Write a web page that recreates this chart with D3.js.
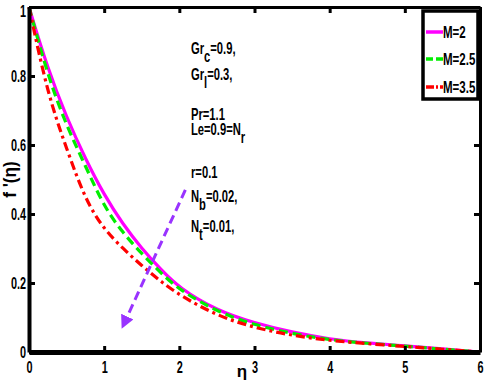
<!DOCTYPE html>
<html>
<head>
<meta charset="utf-8">
<script src="https://cdn.jsdelivr.net/npm/d3@7"></script>
<style>
  body { margin: 0; background: #fff; }
  svg text { font-family: "Liberation Sans", Arial, sans-serif; font-weight: bold; }
</style>
</head>
<body>
<script>
// data
var eta = [0, 0.25, 0.5, 0.75, 1, 1.25, 1.5, 1.75, 2, 2.5, 3, 3.5, 4, 4.5, 5, 5.5, 6];
var fM2   = [1.0, 0.82, 0.68, 0.56, 0.455, 0.37, 0.30, 0.24, 0.185, 0.12, 0.084, 0.057, 0.037, 0.026, 0.018, 0.009, 0.0];
var fM25  = [1.0, 0.80, 0.655, 0.54, 0.42, 0.345, 0.285, 0.23, 0.18, 0.117, 0.078, 0.053, 0.035, 0.025, 0.017, 0.008, 0.0];
var fM35  = [1.0, 0.745, 0.59, 0.44, 0.355, 0.30, 0.25, 0.205, 0.165, 0.105, 0.07, 0.048, 0.033, 0.024, 0.016, 0.008, 0.0];
var seriesNames = ["M=2", "M=2.5", "M=3.5"];
var xTicks = [0, 1, 2, 3, 4, 5, 6];
var yTicks = [0, 0.2, 0.4, 0.6, 0.8, 1];
var yTickLabels = ["0", "0.2", "0.4", "0.6", "0.8", "1"];

var width = 484, height = 383;
var margin = {top: 7, right: 4, bottom: 31, left: 29};
var squeeze = 0.68; // narrow bold look of the original

var svg = d3.select("body").append("svg")
    .attr("width", width)
    .attr("height", height);

var x = d3.scaleLinear().domain([0, 6]).range([margin.left, width - margin.right]);
var y = d3.scaleLinear().domain([0, 1]).range([height - margin.bottom, margin.top]);

// squash text horizontally around its own x
function condense(sel, k) {
    sel.each(function() {
        var t = d3.select(this);
        var xx = +t.attr("x") || 0;
        t.attr("x", xx / k).attr("transform", "scale(" + k + ",1)");
    });
}

var series = [
    {name: seriesNames[0], values: fM2, color: "#ff00ff", dash: null},
    {name: seriesNames[1], values: fM25, color: "#00ee00", dash: "9,5"},
    {name: seriesNames[2], values: fM35, color: "#ff0000", dash: "9,4,3,4"}
];

var line = d3.line()
    .x(function(d) { return x(d[0]); })
    .y(function(d) { return y(d[1]); })
    .curve(d3.curveBasis);

series.forEach(function(s) {
    svg.append("path")
        .attr("fill", "none")
        .attr("stroke", s.color)
        .attr("stroke-width", 3.2)
        .attr("stroke-dasharray", s.dash)
        .attr("d", line(eta.map(function(e, i) { return [e, s.values[i]]; })));
});

// axes, ticks pointing inward like matlab
var axBottom = svg.append("g").attr("transform", "translate(0," + y(0) + ")")
    .call(d3.axisBottom(x).tickValues(xTicks).tickSizeInner(-6).tickSizeOuter(0).tickPadding(10).tickFormat(d3.format("d")));
var axLeft = svg.append("g").attr("transform", "translate(" + x(0) + ",0)")
    .call(d3.axisLeft(y).tickValues(yTicks).tickSizeInner(-6).tickSizeOuter(0).tickPadding(3)
        .tickFormat(function(d, i) { return yTickLabels[i]; }));
var axTop = svg.append("g").attr("transform", "translate(0," + y(1) + ")")
    .call(d3.axisTop(x).tickValues(xTicks).tickSizeInner(-6).tickSizeOuter(0).tickFormat(""));
var axRight = svg.append("g").attr("transform", "translate(" + x(6) + ",0)")
    .call(d3.axisRight(y).tickValues(yTicks).tickSizeInner(-6).tickSizeOuter(0).tickFormat(""));

[axBottom, axLeft, axTop, axRight].forEach(function(g) {
    g.selectAll("text").attr("font-size", 16).attr("fill", "#000")
        .style("font-family", "'Liberation Sans', Arial, sans-serif").style("font-weight", "bold");
    g.selectAll(".tick line").attr("stroke", "#000").attr("stroke-width", 3);
});
axBottom.select(".domain").attr("stroke-width", 5);
axLeft.select(".domain").attr("stroke-width", 4);
axTop.select(".domain").attr("stroke-width", 3);
axRight.select(".domain").attr("stroke-width", 3);
axLeft.selectAll(".tick text").filter(function(d) { return d == 1; }).attr("dy", "0.6em");
condense(axBottom.selectAll(".tick text"), squeeze);
condense(axLeft.selectAll(".tick text"), squeeze);

// axis labels
svg.append("text")
    .attr("x", 242).attr("y", 377)
    .attr("font-size", 17)
    .attr("text-anchor", "middle")
    .attr("font-weight", "normal")
    .text("η");

svg.append("text")
    .attr("transform", "translate(16," + y(0.5) + ") rotate(-90) scale(0.9,1)")
    .attr("font-size", 19)
    .attr("text-anchor", "middle")
    .attr("font-weight", "normal")
    .text("f '(η)");

// arrow
var defs = svg.append("defs");
defs.append("marker")
    .attr("id", "arrowhead")
    .attr("viewBox", "0 0 10 10")
    .attr("refX", 5).attr("refY", 5)
    .attr("markerWidth", 4.5).attr("markerHeight", 4.5)
    .attr("orient", "auto")
    .append("path")
    .attr("d", "M0,0 L10,5 L0,10 z")
    .attr("fill", "#9933ff");

svg.append("line")
    .attr("x1", x(2.08)).attr("y1", y(0.47))
    .attr("x2", x(1.27)).attr("y2", y(0.085))
    .attr("stroke", "#9933ff")
    .attr("stroke-width", 3)
    .attr("stroke-dasharray", "9,5")
    .attr("marker-end", "url(#arrowhead)");

// parameter text
var params = [
    {base: "Gr", sub: "c", rest: "=0.9,", y: 54},
    {base: "Gr", sub: "l", rest: "=0.3,", y: 80},
    {base: "Pr=1.1", sub: "", rest: "", y: 120},
    {base: "Le=0.9=N", sub: "r", rest: "", y: 135},
    {base: "r=0.1", sub: "", rest: "", y: 178},
    {base: "N", sub: "b", rest: "=0.02,", y: 202},
    {base: "N", sub: "t", rest: "=0.01,", y: 232}
];
params.forEach(function(p) {
    var t = svg.append("text").attr("x", 191).attr("y", p.y).attr("font-size", 16.5);
    t.append("tspan").text(p.base);
    if (p.sub) {
        t.append("tspan").attr("dy", 8).text(p.sub);
        if (p.rest) t.append("tspan").attr("dy", -8).text(p.rest);
    }
    condense(t, squeeze);
});

// legend
var lg = svg.append("g");
lg.append("rect")
    .attr("x", 423).attr("y", 11)
    .attr("width", 55).attr("height", 88)
    .attr("fill", "#fff")
    .attr("stroke", "#000")
    .attr("stroke-width", 3.5);
series.forEach(function(s, i) {
    var ly = [32, 59, 87][i];
    lg.append("line")
        .attr("x1", 426).attr("x2", 443)
        .attr("y1", ly).attr("y2", ly)
        .attr("stroke", s.color)
        .attr("stroke-width", 3.5)
        .attr("stroke-dasharray", i == 1 ? "7,3" : (i == 2 ? "8,2,2,2" : null));
    var t = lg.append("text")
        .attr("x", 443).attr("y", ly + 6)
        .attr("font-size", 16)
        .text(s.name);
    condense(t, 0.72);
});
</script>
</body>
</html>
